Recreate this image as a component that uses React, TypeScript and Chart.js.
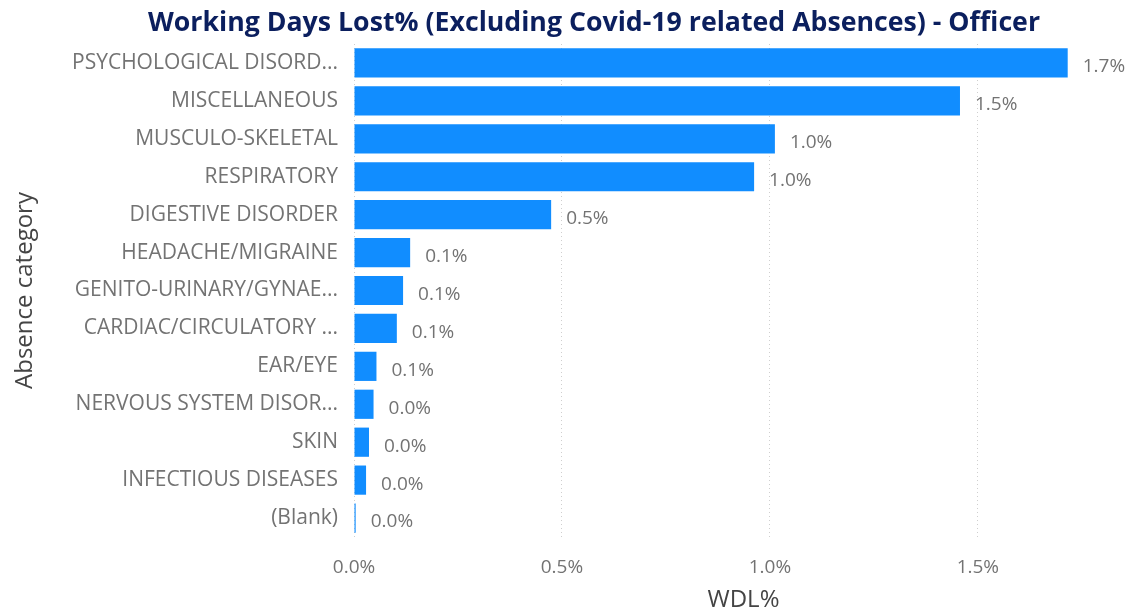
import React, { useEffect, useRef } from 'react';
import { Chart, registerables } from 'chart.js';

Chart.register(...registerables);

const categories = [
  'PSYCHOLOGICAL DISORD...',
  'MISCELLANEOUS',
  'MUSCULO-SKELETAL',
  'RESPIRATORY',
  'DIGESTIVE DISORDER',
  'HEADACHE/MIGRAINE',
  'GENITO-URINARY/GYNAE...',
  'CARDIAC/CIRCULATORY ...',
  'EAR/EYE',
  'NERVOUS SYSTEM DISOR...',
  'SKIN',
  'INFECTIOUS DISEASES',
  '(Blank)',
];
const wdlValues = [1.716, 1.457, 1.012, 0.962, 0.474, 0.135, 0.118, 0.103, 0.054, 0.047, 0.036, 0.029, 0.004];
const xTickValues = [0, 0.5, 1.0, 1.5];
const chartTitle = 'Working Days Lost% (Excluding Covid-19 related Absences) - Officer';
const yAxisTitle = 'Absence category';
const xAxisTitle = 'WDL%';

const FONT = "'Open Sans', 'Noto Sans', sans-serif";
const LABEL_COLOR = '#737373';

const titlePlugin = {
  id: 'customTitle',
  afterDraw(chart: any) {
    const ctx = chart.ctx;
    ctx.save();
    ctx.font = `bold 26px ${FONT}`;
    ctx.fillStyle = '#0B1F5E';
    ctx.textBaseline = 'alphabetic';
    ctx.textAlign = 'center';
    const w = ctx.measureText(chartTitle).width;
    const targetW = 892;
    const sx = targetW / w;
    ctx.translate(594, 31);
    ctx.scale(sx, 1);
    ctx.fillText(chartTitle, 0, 0);
    ctx.restore();
  },
};

const valueLabelPlugin = {
  id: 'valueLabels',
  afterDatasetsDraw(chart: any) {
    const ctx = chart.ctx;
    const meta = chart.getDatasetMeta(0);
    const data = chart.data.datasets[0].data as number[];
    ctx.save();
    ctx.font = `19px ${FONT}`;
    ctx.fillStyle = LABEL_COLOR;
    ctx.textAlign = 'left';
    ctx.textBaseline = 'middle';
    meta.data.forEach((el: any, i: number) => {
      ctx.fillText(data[i].toFixed(1) + '%', el.x + 15, el.y + 4);
    });
    ctx.restore();
  },
};

export default function App() {
  const canvasRef = useRef<HTMLCanvasElement | null>(null);

  useEffect(() => {
    if (!canvasRef.current) return;
    const chart = new Chart(canvasRef.current, {
      type: 'bar',
      data: {
        labels: categories,
        datasets: [
          {
            data: wdlValues,
            backgroundColor: '#118DFF',
            barPercentage: 0.77,
            categoryPercentage: 1,
          },
        ],
      },
      options: {
        indexAxis: 'y',
        animation: false,
        responsive: true,
        maintainAspectRatio: false,
        layout: { padding: { top: 44, left: 0, right: 0, bottom: 0 } },
        plugins: {
          legend: { display: false },
          title: { display: false },
          tooltip: { enabled: false },
        },
        scales: {
          x: {
            type: 'linear',
            min: 0,
            max: 1.873,
            afterFit: (scale: any) => {
              scale.height = 78;
            },
            afterBuildTicks: (scale: any) => {
              scale.ticks = xTickValues.map((v) => ({ value: v }));
            },
            ticks: {
              includeBounds: false,
              stepSize: 0.5,
              padding: 19,
              color: LABEL_COLOR,
              font: { family: FONT, size: 19 },
              callback: (v: any) => Number(v).toFixed(1) + '%',
            },
            grid: {
              color: '#cfcfcf',
              drawTicks: false,
              lineWidth: 1,
            },
            border: { display: false, dash: [1, 3] },
            title: {
              display: true,
              text: xAxisTitle,
              color: '#444444',
              font: { family: FONT, size: 24 },
              padding: { top: 0, bottom: 0 },
            },
          },
          y: {
            type: 'category',
            afterFit: (scale: any) => {
              scale.width = 354;
            },
            ticks: {
              padding: 16,
              color: LABEL_COLOR,
              font: { family: FONT, size: 21 },
              autoSkip: false,
            },
            grid: { display: false, drawTicks: false },
            border: { display: false },
            title: {
              display: true,
              text: yAxisTitle,
              color: '#444444',
              font: { family: FONT, size: 24 },
              padding: { top: 11, bottom: 0 },
            },
          },
        },
      },
      plugins: [titlePlugin, valueLabelPlugin],
    });
    return () => chart.destroy();
  }, []);

  return (
    <div style={{ position: 'absolute', left: 0, top: 0, width: 1133, height: 615, background: '#ffffff' }}>
      <canvas ref={canvasRef} />
    </div>
  );
}
